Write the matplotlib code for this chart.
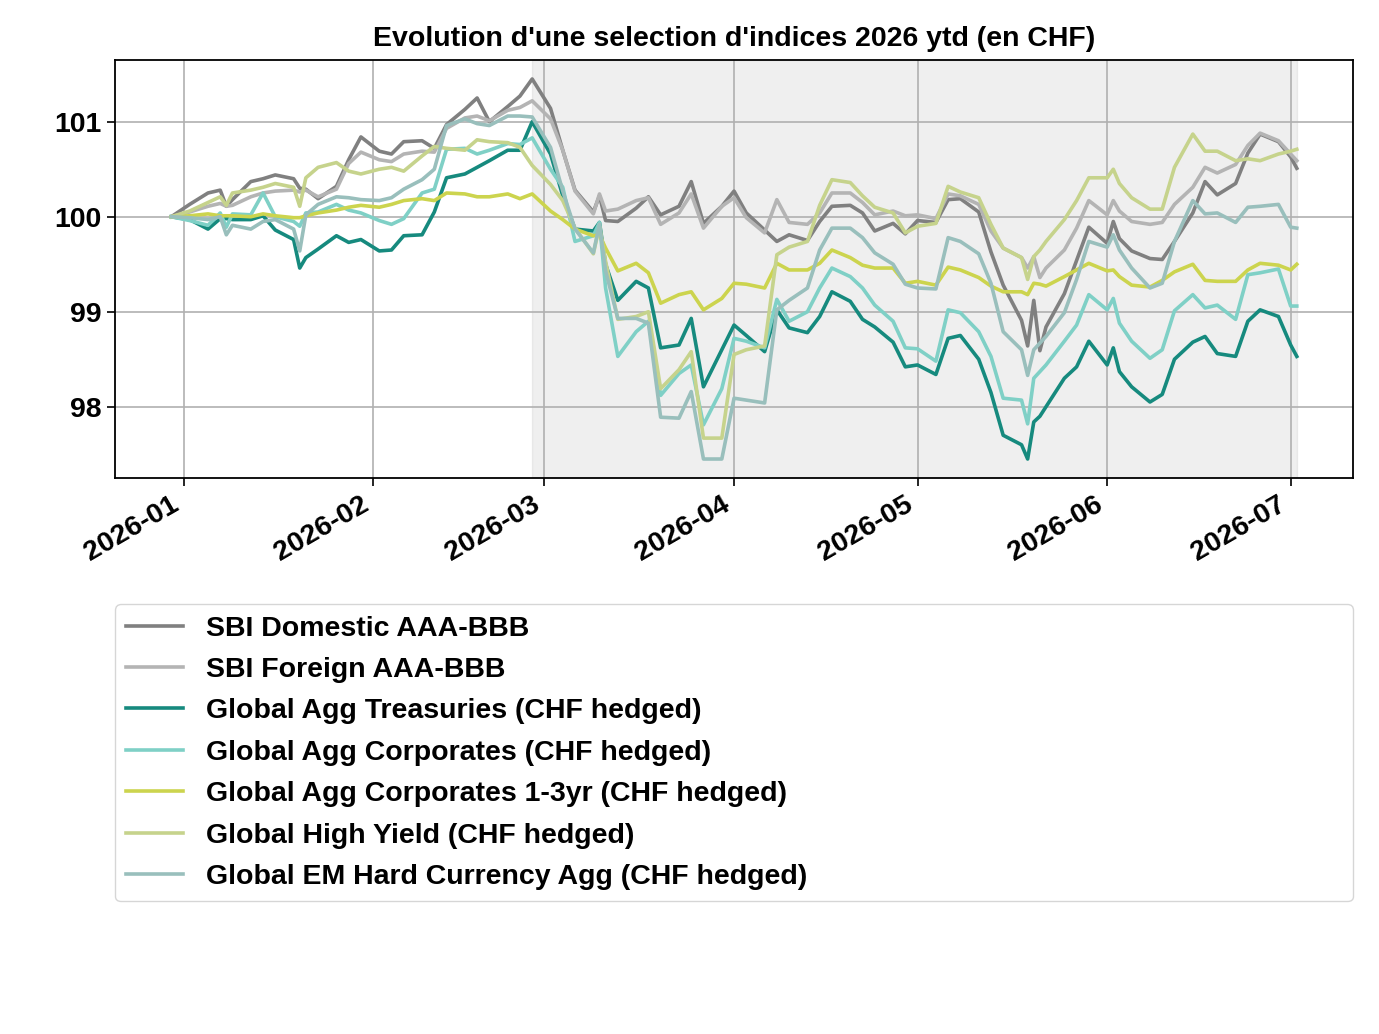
import matplotlib
matplotlib.use("Agg")
import matplotlib.pyplot as plt
import matplotlib.dates as mdates
from matplotlib.ticker import MultipleLocator
import pandas as pd

# Fonts (Arial-like, bold everywhere)
plt.rcParams['font.family'] = ['Liberation Sans', 'DejaVu Sans']
plt.rcParams['font.weight'] = 'bold'
plt.rcParams['font.size'] = 20.5

# Dates as day offsets from 2026-01-01
day_offsets = [-2, 1, 4, 6, 7, 8, 11, 13, 15, 18, 19, 20, 22, 25, 27, 29, 32, 34,
               36, 39, 41, 43, 46, 48, 50, 53, 55, 57, 60, 62, 64, 67, 68, 69, 71,
               74, 76, 78, 81, 83, 85, 88, 90, 92, 95, 97, 99, 102, 104, 106, 109,
               111, 113, 116, 118, 120, 123, 125, 127, 130, 132, 134, 137, 138, 139,
               140, 141, 144, 146, 148, 151, 152, 153, 155, 158, 160, 162, 165, 167,
               169, 172, 174, 176, 179, 181, 182]
dates = pd.Timestamp("2026-01-01") + pd.to_timedelta(day_offsets, unit="D")

sbi_domestic = [100.00, 100.13, 100.25, 100.28, 100.11, 100.18, 100.37, 100.40, 100.44, 100.40,
                100.30, 100.29, 100.19, 100.32, 100.60, 100.84, 100.69, 100.66, 100.79, 100.80,
                100.72, 100.97, 101.13, 101.25, 101.00, 101.16, 101.27, 101.45, 101.14, 100.70,
                100.28, 100.05, 100.22, 99.96, 99.95, 100.09, 100.21, 100.02, 100.11, 100.37,
                99.93, 100.11, 100.27, 100.04, 99.86, 99.74, 99.81, 99.75, 99.95, 100.11,
                100.12, 100.04, 99.85, 99.93, 99.82, 99.96, 99.94, 100.18, 100.19, 100.05,
                99.63, 99.28, 98.91, 98.64, 99.12, 98.59, 98.84, 99.19, 99.54, 99.89,
                99.72, 99.95, 99.77, 99.64, 99.56, 99.55, 99.74, 100.04, 100.37, 100.23,
                100.35, 100.67, 100.87, 100.79, 100.63, 100.51]

sbi_foreign = [100.00, 100.05, 100.11, 100.14, 100.11, 100.12, 100.21, 100.25, 100.27, 100.28,
               100.26, 100.28, 100.21, 100.29, 100.56, 100.68, 100.60, 100.58, 100.66, 100.69,
               100.68, 100.93, 101.04, 101.06, 101.01, 101.12, 101.15, 101.22, 101.03, 100.70,
               100.27, 100.03, 100.24, 100.06, 100.08, 100.17, 100.20, 99.92, 100.04, 100.24,
               99.88, 100.11, 100.20, 99.99, 99.83, 100.18, 99.94, 99.92, 100.04, 100.25,
               100.25, 100.15, 100.02, 100.06, 100.01, 100.02, 99.98, 100.24, 100.22, 100.13,
               99.85, 99.67, 99.57, 99.46, 99.58, 99.36, 99.46, 99.65, 99.88, 100.17,
               100.02, 100.17, 100.06, 99.95, 99.92, 99.94, 100.13, 100.31, 100.52, 100.46,
               100.55, 100.75, 100.88, 100.80, 100.66, 100.59]

agg_treasuries = [100.00, 99.97, 99.87, 99.98, 99.98, 99.97, 99.97, 100.01, 99.86, 99.76,
                  99.46, 99.57, 99.66, 99.80, 99.73, 99.76, 99.64, 99.65, 99.80, 99.81,
                  100.05, 100.41, 100.45, 100.52, 100.59, 100.70, 100.70, 101.00, 100.66, 100.22,
                  99.87, 99.85, 99.94, 99.50, 99.12, 99.32, 99.25, 98.62, 98.65, 98.93,
                  98.21, 98.60, 98.86, 98.75, 98.58, 99.02, 98.83, 98.78, 98.95, 99.21,
                  99.11, 98.92, 98.84, 98.68, 98.42, 98.44, 98.34, 98.72, 98.75, 98.50,
                  98.15, 97.70, 97.60, 97.45, 97.84, 97.90, 98.00, 98.30, 98.42, 98.69,
                  98.44, 98.62, 98.37, 98.21, 98.05, 98.13, 98.50, 98.68, 98.74, 98.56,
                  98.53, 98.90, 99.02, 98.95, 98.65, 98.53]

agg_corporates = [100.00, 99.96, 99.91, 100.04, 99.89, 100.03, 100.02, 100.25, 100.00, 99.95,
                  99.90, 100.04, 100.05, 100.13, 100.07, 100.04, 99.96, 99.92, 99.98, 100.25,
                  100.29, 100.71, 100.72, 100.66, 100.70, 100.77, 100.76, 100.83, 100.50, 100.31,
                  99.74, 99.80, 99.94, 99.25, 98.53, 98.79, 98.90, 98.12, 98.35, 98.44,
                  97.81, 98.19, 98.72, 98.69, 98.62, 99.13, 98.90, 99.00, 99.25, 99.46,
                  99.37, 99.25, 99.07, 98.90, 98.62, 98.61, 98.48, 99.02, 98.99, 98.79,
                  98.53, 98.09, 98.07, 97.82, 98.30, 98.37, 98.44, 98.69, 98.86, 99.18,
                  99.02, 99.14, 98.88, 98.69, 98.51, 98.60, 99.01, 99.18, 99.04, 99.07,
                  98.92, 99.39, 99.41, 99.45, 99.06, 99.06]

agg_corp_1_3 = [100.00, 100.01, 100.03, 100.01, 100.01, 100.01, 100.00, 100.03, 100.01, 99.99,
                99.99, 100.01, 100.04, 100.07, 100.10, 100.12, 100.10, 100.13, 100.17, 100.19,
                100.17, 100.25, 100.24, 100.21, 100.21, 100.24, 100.19, 100.24, 100.06, 99.97,
                99.87, 99.80, 99.81, 99.67, 99.43, 99.51, 99.41, 99.09, 99.18, 99.21,
                99.02, 99.14, 99.30, 99.29, 99.25, 99.51, 99.44, 99.44, 99.51, 99.65,
                99.57, 99.49, 99.46, 99.46, 99.30, 99.32, 99.28, 99.47, 99.44, 99.36,
                99.27, 99.21, 99.21, 99.18, 99.30, 99.29, 99.27, 99.37, 99.44, 99.51,
                99.43, 99.44, 99.37, 99.28, 99.26, 99.33, 99.42, 99.50, 99.33, 99.32,
                99.32, 99.44, 99.51, 99.49, 99.44, 99.50]

high_yield = [100.00, 100.06, 100.15, 100.21, 100.12, 100.25, 100.28, 100.31, 100.35, 100.31,
              100.11, 100.41, 100.52, 100.57, 100.48, 100.45, 100.50, 100.52, 100.48, 100.64,
              100.74, 100.72, 100.70, 100.81, 100.79, 100.78, 100.73, 100.54, 100.34, 100.17,
              99.88, 99.61, 99.90, 99.53, 98.92, 98.95, 99.00, 98.19, 98.39, 98.58,
              97.67, 97.67, 98.55, 98.60, 98.64, 99.60, 99.68, 99.74, 100.12, 100.39,
              100.36, 100.22, 100.10, 100.04, 99.83, 99.90, 99.93, 100.32, 100.26, 100.20,
              99.92, 99.67, 99.57, 99.34, 99.58, 99.65, 99.74, 99.97, 100.17, 100.41,
              100.41, 100.50, 100.35, 100.20, 100.08, 100.08, 100.52, 100.87, 100.69, 100.69,
              100.59, 100.61, 100.59, 100.66, 100.69, 100.71]

em_hard_ccy = [100.00, 99.99, 99.97, 100.00, 99.81, 99.91, 99.87, 99.95, 99.97, 99.87,
               99.64, 100.02, 100.13, 100.21, 100.20, 100.18, 100.17, 100.20, 100.29, 100.39,
               100.50, 100.96, 101.03, 100.98, 100.96, 101.06, 101.06, 101.05, 100.73, 100.27,
               99.87, 99.62, 99.92, 99.43, 98.93, 98.93, 98.88, 97.89, 97.88, 98.16,
               97.45, 97.45, 98.09, 98.07, 98.04, 99.02, 99.12, 99.25, 99.65, 99.88,
               99.88, 99.78, 99.62, 99.50, 99.29, 99.25, 99.24, 99.78, 99.74, 99.61,
               99.30, 98.79, 98.60, 98.33, 98.60, 98.67, 98.74, 98.99, 99.34, 99.74,
               99.68, 99.81, 99.65, 99.46, 99.25, 99.30, 99.74, 100.17, 100.03, 100.04,
               99.94, 100.10, 100.11, 100.13, 99.89, 99.88]

labels = ["SBI Domestic AAA-BBB", "SBI Foreign AAA-BBB", "Global Agg Treasuries (CHF hedged)",
          "Global Agg Corporates (CHF hedged)", "Global Agg Corporates 1-3yr (CHF hedged)",
          "Global High Yield (CHF hedged)", "Global EM Hard Currency Agg (CHF hedged)"]
series = [sbi_domestic, sbi_foreign, agg_treasuries, agg_corporates, agg_corp_1_3,
          high_yield, em_hard_ccy]
colors = ["#808080", "#b4b4b4", "#168a7e", "#7fd0c6", "#ccd44e", "#c6d38c", "#99bfbc"]

# Shaded period starts end of February
shade_start = pd.Timestamp("2026-02-27")

fig = plt.figure(figsize=(13.79, 10.34), dpi=100)
ax = fig.add_axes([0.0834, 0.5377, 0.8978, 0.4043])

ax.axvspan(shade_start, dates[-1], color="grey", alpha=0.12, zorder=0)

for vals, lab, col in zip(series, labels, colors):
    ax.plot(dates, vals, color=col, linewidth=2.6, label=lab)

ax.grid(True, color="#b0b0b0", linewidth=1.2)
ax.xaxis.set_major_locator(mdates.MonthLocator())
ax.xaxis.set_major_formatter(mdates.DateFormatter("%Y-%m"))
ax.yaxis.set_major_locator(MultipleLocator(1))
plt.setp(ax.get_xticklabels(), rotation=30, ha="right")
ax.tick_params(length=6, width=1.2)
for sp in ax.spines.values():
    sp.set_linewidth(1.3)

ax.set_title("Evolution d'une selection d'indices 2026 ytd (en CHF)", fontweight="bold",
             fontsize=20.5, pad=10)

ax.legend(loc="upper left", bbox_to_anchor=(0, -0.302, 1, 0), mode="expand",
          borderaxespad=0, ncol=1, labelspacing=0.54)

fig.savefig("out.png", dpi=100)
